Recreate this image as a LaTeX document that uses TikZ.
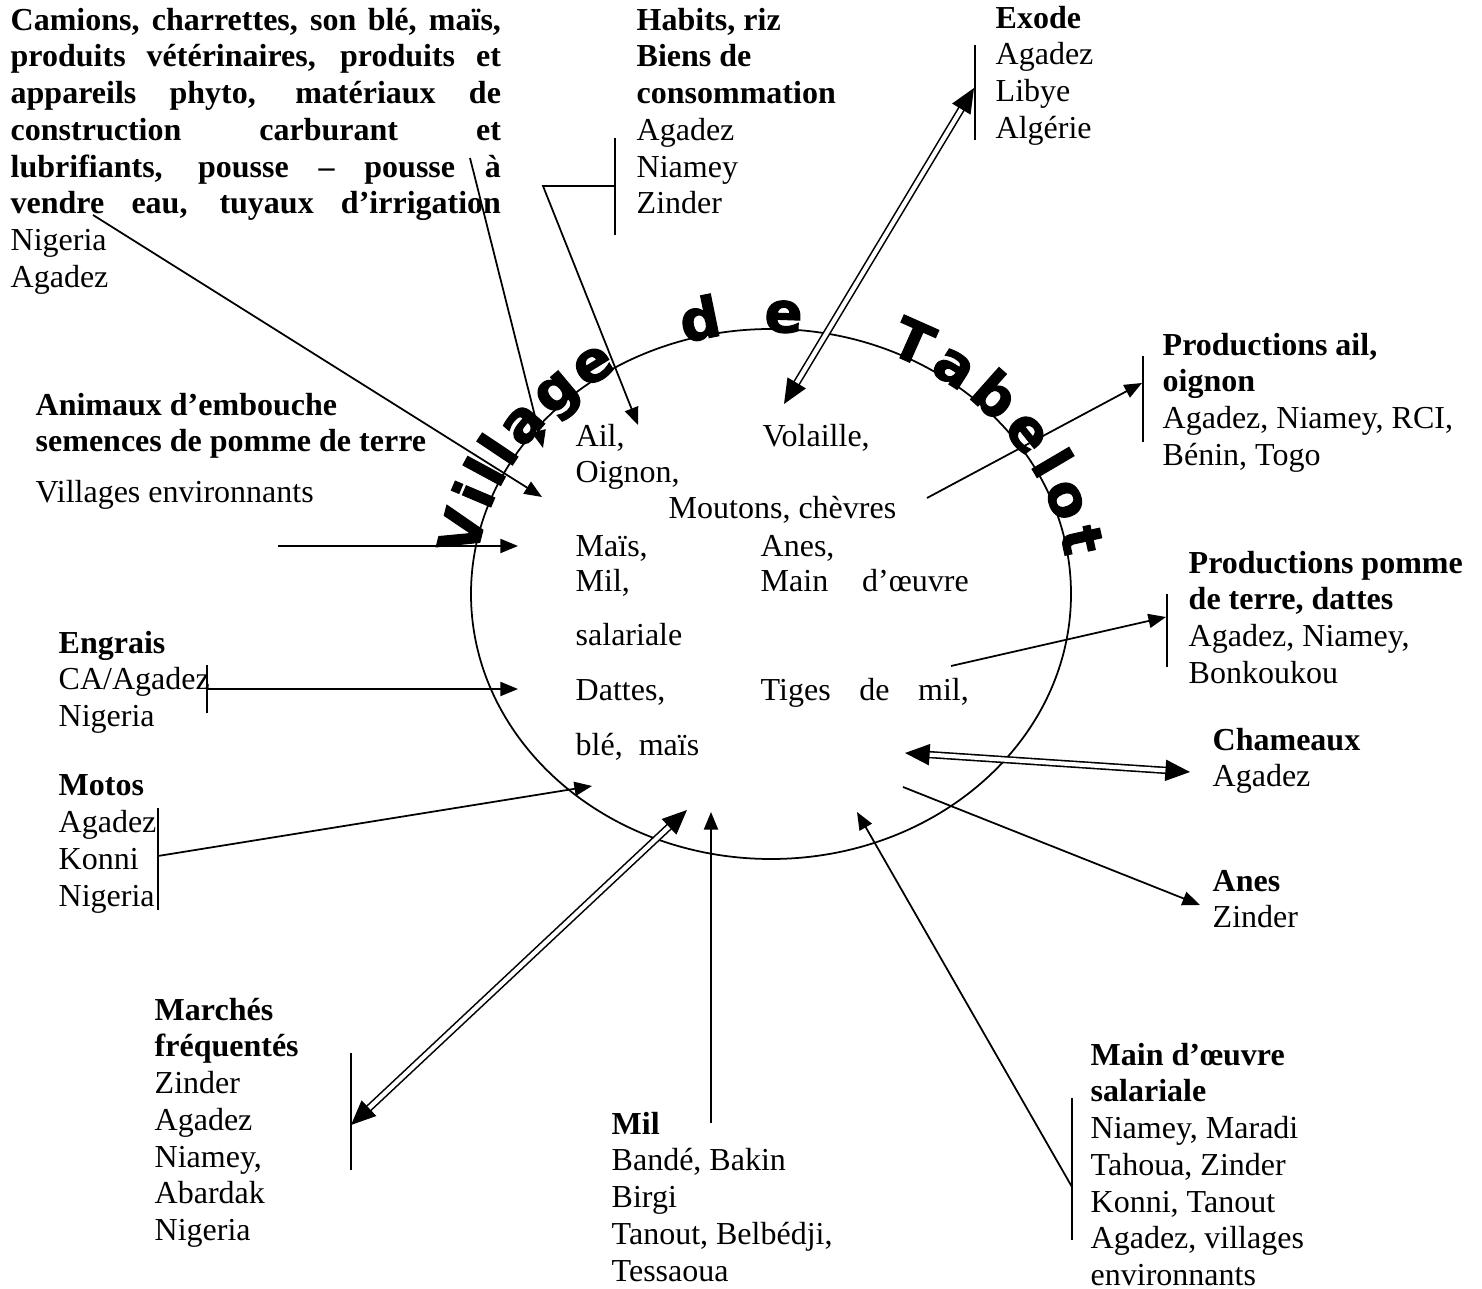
\documentclass[tikz,border=0pt]{standalone}
\usepackage{fontspec}
\setmainfont{Liberation Serif}
\newfontfamily\artfont{DejaVu Sans}[BoldFeatures={FakeBold=2}]
\usepackage{tikz}
\usetikzlibrary{arrows.meta,decorations.text,calc}

\newcommand\jl[1]{\makebox[4.9cm][s]{#1}}
\newcommand\tabfont{\artfont\bfseries\fontsize{16}{16}\selectfont}

\begin{document}
\begin{tikzpicture}[x=0.01cm,y=-0.01cm,
    font=\fontsize{9.1}{10.45}\selectfont,
    txt/.style={anchor=north west,inner sep=0pt,align=left,yshift=7.315pt,
      execute at begin node=\strut},
    conn/.style={line width=0.5pt},
    arr/.style={conn,-{Triangle[length=5pt,width=4pt]}},
    dbl/.style={line width=0.45pt,double,double distance=1.2pt,
      {Triangle[length=7pt,width=6pt]}-{Triangle[length=7pt,width=6pt]}},
    arcword/.style={decorate,decoration={text along path,
      text={|\tabfont|#1},text align={fit to path}}}]
  \useasboundingbox (0,0) rectangle (1482,1289);

  % the village
  \coordinate (ctr) at (771,594);
  \draw[conn] (ctr) ellipse [x radius=300,y radius=265];
  \path[arcword=Village] ($(ctr)+(-172:297 and 262)$)
    arc [start angle=-172,end angle=-121,x radius=297,y radius=262];
  \path[arcword=de] ($(ctr)+(-107:297 and 262)$)
    arc [start angle=-107,end angle=-84,x radius=297,y radius=262];
  \path[arcword=Tabelot] ($(ctr)+(-67:297 and 262)$)
    arc [start angle=-67,end angle=-8,x radius=297,y radius=262];

  % inside
  \node[txt] (ail) at (575,446) {Ail,};
  \node[txt] (volaille) at (762,446) {Volaille,};
  \node[txt] (oignon) at (575,482) {Oignon,};
  \node[txt] (moutons) at (668,518) {Moutons, chèvres};
  \node[txt] (mais) at (575,556) {Maïs,};
  \node[txt] (anesin) at (760,556) {Anes,};
  \node[txt] (milin) at (575,591) {Mil,};
  \node[txt] (mainin) at (760,591) {\makebox[2.08cm][s]{Main d’œuvre}};
  \node[txt] (salar) at (575,645) {salariale};
  \node[txt] (dattes) at (575,700) {Dattes,};
  \node[txt] (tiges) at (760,700) {\makebox[2.08cm][s]{Tiges de mil,}};
  \node[txt] (ble) at (575,755) {blé,\ \ maïs};

  % around
  \node[txt] (camions) at (10,33) {\bfseries\jl{Camions, charrettes, son blé, maïs,}\\
    \bfseries\jl{produits vétérinaires, produits et}\\
    \bfseries\jl{appareils phyto, matériaux de}\\
    \bfseries\jl{construction carburant et}\\
    \bfseries\jl{lubrifiants, pousse – pousse à}\\
    \bfseries\jl{vendre eau, tuyaux d’irrigation}\\
    \mdseries Nigeria\\ Agadez};
  \node[txt] (habits) at (636,33) {\textbf{Habits, riz}\\ \textbf{Biens de}\\
    \textbf{consommation}\\ Agadez\\ Niamey\\ Zinder};
  \node[txt] (exode) at (995,31) {\textbf{Exode}\\ Agadez\\ Libye\\ Algérie};
  \node[txt] (animaux) at (35,418) {\textbf{Animaux d’embouche}\\
    \textbf{semences de pomme de terre}\\[4pt] Villages environnants};
  \node[txt] (engrais) at (58,656) {\textbf{Engrais}\\ CA/Agadez\\ Nigeria};
  \node[txt] (motos) at (58,800) {\textbf{Motos}\\ Agadez\\ Konni\\ Nigeria};
  \node[txt] (marches) at (154,1023) {\textbf{Marchés}\\ \textbf{fréquentés}\\
    Zinder\\ Agadez\\ Niamey,\\ Abardak\\ Nigeria};
  \node[txt] (mil) at (611,1137) {\textbf{Mil}\\ Bandé, Bakin\\ Birgi\\
    Tanout, Belbédji,\\ Tessaoua};
  \node[txt] (maindo) at (1090,1068) {\textbf{Main d’œuvre}\\ \textbf{salariale}\\
    Niamey, Maradi\\ Tahoua, Zinder\\ Konni, Tanout\\ Agadez, villages\\
    environnants};
  \node[txt] (anes) at (1212,895) {\textbf{Anes}\\ Zinder};
  \node[txt] (chameaux) at (1212,753) {\textbf{Chameaux}\\ Agadez};
  \node[txt] (ppomme) at (1188,576) {\textbf{Productions pomme}\\
    \textbf{de terre, dattes}\\ Agadez, Niamey,\\ Bonkoukou};
  \node[txt] (pail) at (1162,358) {\textbf{Productions ail,}\\ \textbf{oignon}\\
    Agadez, Niamey, RCI,\\ Bénin, Togo};

  % ends of the connectors
  \coordinate (camA) at (93,215);   \coordinate (camAE) at (542,497);
  \coordinate (camB) at (470,158);  \coordinate (camBE) at (543,448);
  \coordinate (habT) at (615,138);  \coordinate (habB) at (615,235);
  \coordinate (habM) at (615,186);  \coordinate (habK) at (543,186);
  \coordinate (habE) at (638,425);
  \coordinate (exT) at (975,45);    \coordinate (exB) at (975,140);
  \coordinate (exA) at (974,88);    \coordinate (exE) at (784,404);
  \coordinate (vilA) at (278,546);  \coordinate (vilE) at (518,546);
  \coordinate (engT) at (207,665);  \coordinate (engB) at (207,713);
  \coordinate (engA) at (207,689);  \coordinate (engE) at (518,689);
  \coordinate (motT) at (158,808);  \coordinate (motB) at (158,910);
  \coordinate (motA) at (158,856);  \coordinate (motE) at (592,786);
  \coordinate (marT) at (351,1053); \coordinate (marB) at (351,1170);
  \coordinate (marA) at (351,1125); \coordinate (marE) at (687,810);
  \coordinate (milA) at (711,1123); \coordinate (milE) at (711,812);
  \coordinate (mdoT) at (1072,1098); \coordinate (mdoB) at (1072,1240);
  \coordinate (mdoA) at (1072,1187); \coordinate (mdoE) at (857,812);
  \coordinate (aneA) at (903,787);  \coordinate (aneE) at (1200,905);
  \coordinate (chaA) at (905,753);  \coordinate (chaE) at (1190,772);
  \coordinate (ppA) at (951,666);   \coordinate (ppE) at (1166,617);
  \coordinate (ppT) at (1167,594);  \coordinate (ppB) at (1167,667);
  \coordinate (paA) at (927,498);   \coordinate (paE) at (1142,383);
  \coordinate (paT) at (1143,356);  \coordinate (paB) at (1143,442);

  % brackets
  \path[conn,draw] (habT) -- (habB) (exT) -- (exB) (engT) -- (engB)
    (motT) -- (motB) (marT) -- (marB) (mdoT) -- (mdoB)
    (ppT) -- (ppB) (paT) -- (paB);

  % flows
  \draw[arr] (habM) -- (habK) -- (habE);
  \path[arr]
    (camA) edge (camAE)
    (camB) edge (camBE)
    (vilA) edge (vilE)
    (engA) edge (engE)
    (motA) edge (motE)
    (milA) edge (milE)
    (mdoA) edge (mdoE)
    (aneA) edge (aneE)
    (ppA) edge (ppE)
    (paA) edge (paE);
  \path
    (exA) edge[dbl] (exE)
    (chaA) edge[dbl] (chaE)
    (marA) edge[dbl] (marE);
\end{tikzpicture}
\end{document}
